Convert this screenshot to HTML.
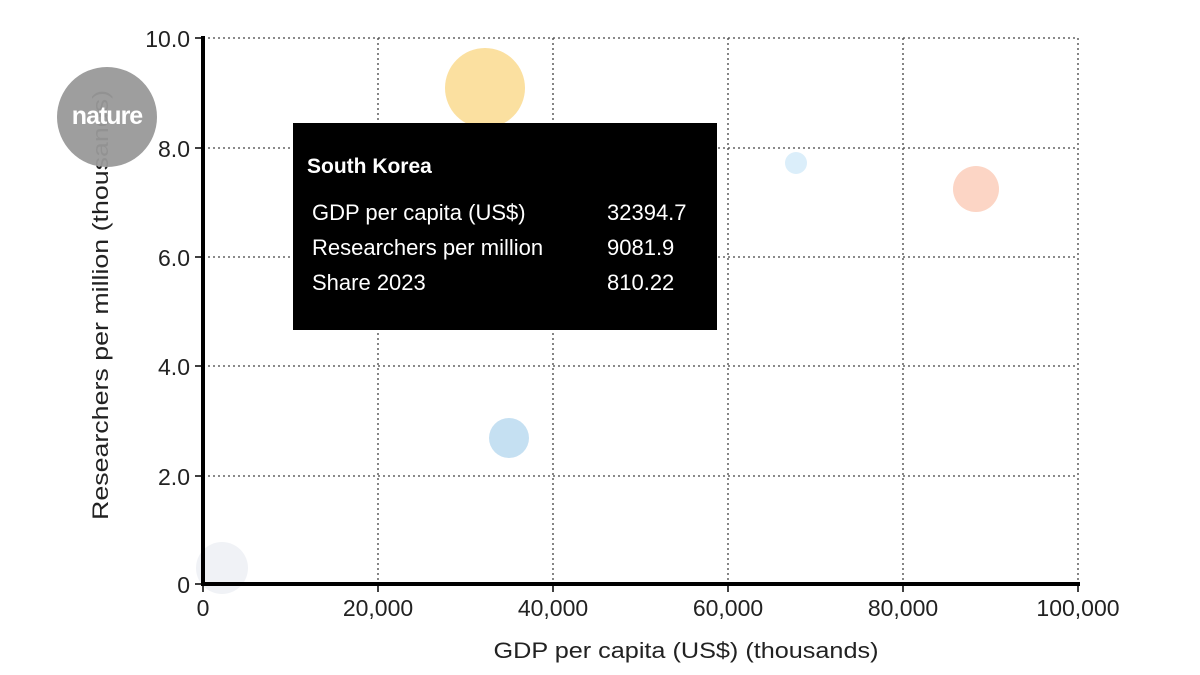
<!DOCTYPE html>
<html><head><meta charset="utf-8"><style>body{margin:0;background:#fff}svg{display:block}text{font-family:"Liberation Sans",sans-serif}</style></head><body>
<svg width="1200" height="675" viewBox="0 0 1200 675">
<g stroke="#444" stroke-width="1.3" stroke-dasharray="2,3" fill="none">
<line x1="203" y1="38" x2="1078" y2="38"/>
<line x1="203" y1="148" x2="1078" y2="148"/>
<line x1="203" y1="257" x2="1078" y2="257"/>
<line x1="203" y1="366" x2="1078" y2="366"/>
<line x1="203" y1="476" x2="1078" y2="476"/>
<line x1="378" y1="38" x2="378" y2="584"/>
<line x1="553" y1="38" x2="553" y2="584"/>
<line x1="728" y1="38" x2="728" y2="584"/>
<line x1="903" y1="38" x2="903" y2="584"/>
<line x1="1078" y1="38" x2="1078" y2="584"/>
</g>
<circle cx="485" cy="88" r="40" fill="#fbe0a0"/>
<circle cx="796" cy="163" r="11" fill="#dbeefa"/>
<circle cx="976" cy="189" r="23" fill="#fcd5c5"/>
<circle cx="509" cy="438" r="20" fill="#c5e0f2"/>
<circle cx="222" cy="568" r="26" fill="#eef1f5" opacity="0.9"/>
<line x1="203" y1="36" x2="203" y2="586" stroke="#000" stroke-width="4"/>
<line x1="201" y1="584" x2="1080" y2="584" stroke="#000" stroke-width="4"/>
<g stroke="#000" stroke-width="1.5">
<line x1="195" y1="38" x2="203" y2="38"/><line x1="195" y1="148" x2="203" y2="148"/><line x1="195" y1="257" x2="203" y2="257"/><line x1="195" y1="366" x2="203" y2="366"/><line x1="195" y1="476" x2="203" y2="476"/><line x1="195" y1="584" x2="203" y2="584"/>
<line x1="203" y1="584" x2="203" y2="592"/><line x1="378" y1="584" x2="378" y2="592"/><line x1="553" y1="584" x2="553" y2="592"/><line x1="728" y1="584" x2="728" y2="592"/><line x1="903" y1="584" x2="903" y2="592"/><line x1="1078" y1="584" x2="1078" y2="592"/>
</g>
<g font-size="23" fill="#222" text-anchor="end">
<text x="190" y="47">10.0</text><text x="190" y="157">8.0</text><text x="190" y="266">6.0</text><text x="190" y="375">4.0</text><text x="190" y="485">2.0</text><text x="190" y="593">0</text>
</g>
<g font-size="23" fill="#222" text-anchor="middle">
<text x="203" y="616">0</text><text x="378" y="616">20,000</text><text x="553" y="616">40,000</text><text x="728" y="616">60,000</text><text x="903" y="616">80,000</text><text x="1078" y="616">100,000</text>
</g>
<text x="686" y="658" font-size="22" fill="#222" text-anchor="middle" textLength="385" lengthAdjust="spacingAndGlyphs">GDP per capita (US$) (thousands)</text>
<text transform="translate(108,305) rotate(-90)" font-size="22" fill="#222" text-anchor="middle" textLength="430" lengthAdjust="spacingAndGlyphs">Researchers per million (thousands)</text>
<circle cx="107" cy="117" r="50" fill="#999" opacity="0.95"/>
<text x="107" y="124" font-family="Liberation Serif,serif" font-size="25" font-weight="bold" fill="#fff" text-anchor="middle" letter-spacing="-1">nature</text>
<rect x="293" y="123" width="424" height="207" fill="#000"/>
<text x="307" y="173" font-size="21" font-weight="bold" fill="#fff">South Korea</text>
<g font-size="22" fill="#fff">
<text x="312" y="220">GDP per capita (US$)</text><text x="607" y="220">32394.7</text>
<text x="312" y="255">Researchers per million</text><text x="607" y="255">9081.9</text>
<text x="312" y="290">Share 2023</text><text x="607" y="290">810.22</text>
</g>
</svg>
</body></html>
